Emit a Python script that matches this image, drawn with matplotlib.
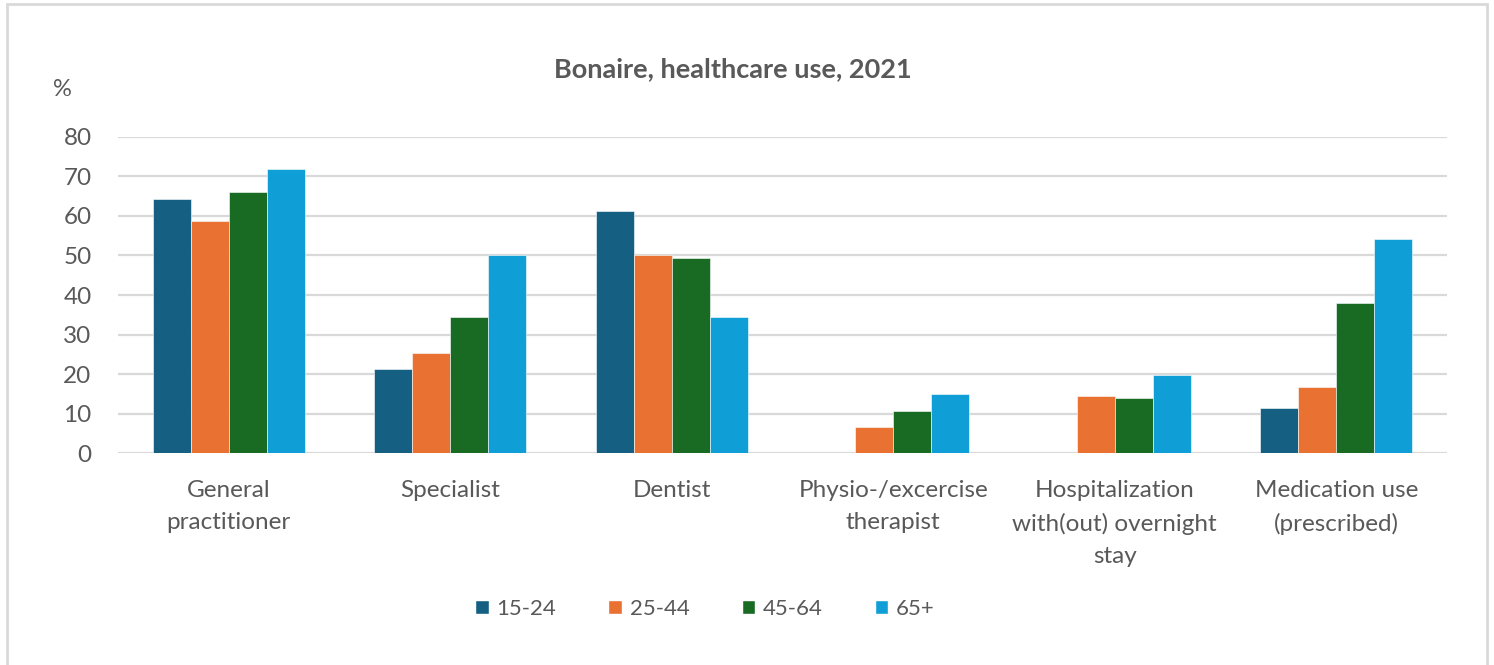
import matplotlib
matplotlib.use("Agg")
import matplotlib.pyplot as plt
import numpy as np
from matplotlib.patches import Rectangle, Patch

categories = ["General\npractitioner", "Specialist", "Dentist",
              "Physio-/excercise\ntherapist", "Hospitalization\nwith(out) overnight\nstay",
              "Medication use\n(prescribed)"]
series_names = ["15-24", "25-44", "45-64", "65+"]
v_15_24 = [64.2, 21.3, 61.3, np.nan, np.nan, 11.5]
v_25_44 = [58.8, 25.3, 50.0, 6.6, 14.4, 16.7]
v_45_64 = [66.1, 34.4, 49.3, 10.6, 14.0, 38.1]
v_65 = [71.9, 50.0, 34.5, 15.0, 19.9, 54.1]
values = [v_15_24, v_25_44, v_45_64, v_65]
colors = ["#156082", "#E97132", "#196B24", "#0F9ED5"]
yticks = [0, 10, 20, 30, 40, 50, 60, 70, 80]

W, H = 1494, 665
plt.rcParams['font.family'] = ['Lato', 'DejaVu Sans']
txt = "#595959"
fig = plt.figure(figsize=(W/100, H/100), dpi=100)
fig.patch.set_facecolor("white")

# outer frame
fig.add_artist(Rectangle((7/W, -0.05), (1487-7)/W, 1.05 - 4/H, transform=fig.transFigure,
                         fill=False, edgecolor="#d9d9d9", linewidth=2))

ax = fig.add_axes([118/W, 1-453.3/H, (1447-118)/W, (453.3-136.7)/H])
x = np.arange(len(categories))
bw = 0.1716
for i, (name, vals, c) in enumerate(zip(series_names, values, colors)):
    ax.bar(x + (i-1.5)*bw, vals, width=bw, color=c, label=name, zorder=3,
           edgecolor="white", linewidth=0.4)

ax.set_xlim(-0.5, len(categories)-0.5)
ax.set_ylim(0, 80)
ax.set_yticks(yticks)
ax.set_yticklabels([str(t) for t in yticks], fontsize=17.5, color=txt)
ax.set_xticks(x)
ax.set_xticklabels(categories, fontsize=17.5, color=txt, linespacing=1.65, va="top")
ax.tick_params(axis="both", length=0)
ax.tick_params(axis="x", pad=19)
ax.tick_params(axis="y", pad=19)
for s in ax.spines.values():
    s.set_visible(False)
ax.yaxis.grid(True, color="#d9d9d9", linewidth=1.6, zorder=0)
ax.set_axisbelow(True)

fig.text(733/W, 1-69/H, "Bonaire, healthcare use, 2021", ha="center", va="center",
         fontsize=19.5, fontweight="bold", color=txt)
fig.text(62/W, 1-89/H, "%", ha="center", va="center", fontsize=17, color=txt)

handles = [Patch(facecolor=c, edgecolor="white") for c in colors]
leg = fig.legend(handles, series_names, loc="center", bbox_to_anchor=(705/W, 1-609/H),
                 ncol=4, frameon=False, fontsize=16, handlelength=0.6, handleheight=0.6,
                 handletextpad=0.35, columnspacing=2.35)
for t in leg.get_texts():
    t.set_color(txt)

fig.savefig("out.png", dpi=100, facecolor="white")
